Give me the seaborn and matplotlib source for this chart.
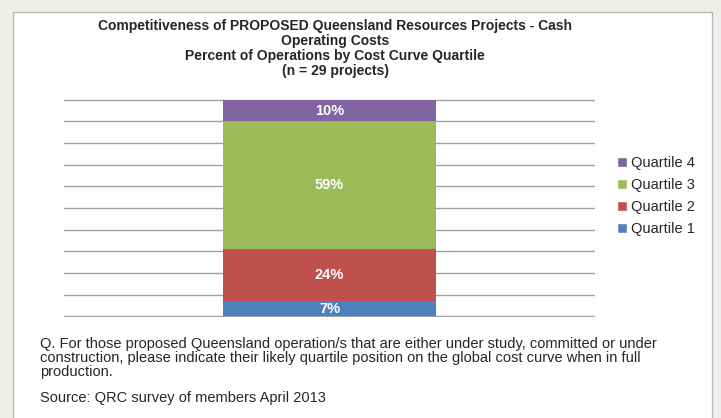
import matplotlib
matplotlib.use("Agg")
import matplotlib.pyplot as plt
import seaborn as sns
import pandas as pd
from matplotlib.patches import Patch, Rectangle

quartiles = ["Quartile 1", "Quartile 2", "Quartile 3", "Quartile 4"]
percents = [7, 24, 59, 10]
colors = ["#4F81BD", "#C0504D", "#9BBB59", "#8064A2"]
category = ["Proposed"]

title = ("Competitiveness of PROPOSED Queensland Resources Projects - Cash\n"
         "Operating Costs\n"
         "Percent of Operations by Cost Curve Quartile\n"
         "(n = 29 projects)")
note = ("Q. For those proposed Queensland operation/s that are either under study, committed or under\n"
        "construction, please indicate their likely quartile position on the global cost curve when in full\n"
        "production.")
source = "Source: QRC survey of members April 2013"

sns.set_style("white")
plt.rcParams["font.family"] = ["Liberation Sans", "DejaVu Sans"]

W, H = 721, 418
fig = plt.figure(figsize=(W / 100, H / 100), dpi=100, facecolor="#efefea")

# white panel
fig.patches.append(Rectangle((13 / W, -0.05), (712 - 13) / W, 1 - 12 / H + 0.05,
                             transform=fig.transFigure, facecolor="white",
                             edgecolor="#b8b8b8", lw=1, zorder=-1))

ax = fig.add_axes([64 / W, (H - 317) / H, (595 - 64) / W, (317 - 99) / H])
ax.set_zorder(2)
ax.set_facecolor("white")

# stacked bar: draw cumulative totals from tallest down
cum = pd.Series(percents).cumsum()
df = pd.DataFrame({"quartile": quartiles, "pct": percents, "cum": cum, "color": colors})
for i in range(len(df) - 1, -1, -1):
    sns.barplot(x=category, y=[df["cum"][i]], color=df["color"][i], width=0.403,
                saturation=1, linewidth=0, ax=ax, zorder=3)

for i in range(len(df)):
    mid = df["cum"][i] - df["pct"][i] / 2
    ax.text(0, mid, f"{df['pct'][i]}%", ha="center", va="center", color="white",
            fontsize=10.5, fontweight="bold", zorder=4)

ax.set_ylim(-0.4, 100.4)
ax.set_xlim(-0.5, 0.5)
ax.set_yticks(range(0, 101, 10))
ax.yaxis.grid(True, color="#a0a0a0", lw=1)
ax.set_axisbelow(True)
ax.tick_params(left=False, bottom=False, labelleft=False, labelbottom=False)
ax.set_xlabel("")
ax.set_ylabel("")
for s in ax.spines.values():
    s.set_visible(False)

handles = [Patch(facecolor=c, label=q) for q, c in zip(quartiles, colors)][::-1]
fig.legend(handles=handles, loc="upper left", bbox_to_anchor=(604 / W, (H - 143) / H),
           frameon=False, fontsize=10.5, handlelength=0.7, handleheight=0.7,
           handletextpad=0.25, labelspacing=0.55)

fig.text(335 / W, (H - 19) / H, title, ha="center", va="top", fontsize=10,
         fontweight="bold", linespacing=1.1)
fig.text(40 / W, (H - 337) / H, note, ha="left", va="top", fontsize=10.5, linespacing=1.0)
fig.text(40 / W, (H - 391) / H, source, ha="left", va="top", fontsize=10.5)

fig.savefig("out.png", dpi=100, facecolor=fig.get_facecolor())
